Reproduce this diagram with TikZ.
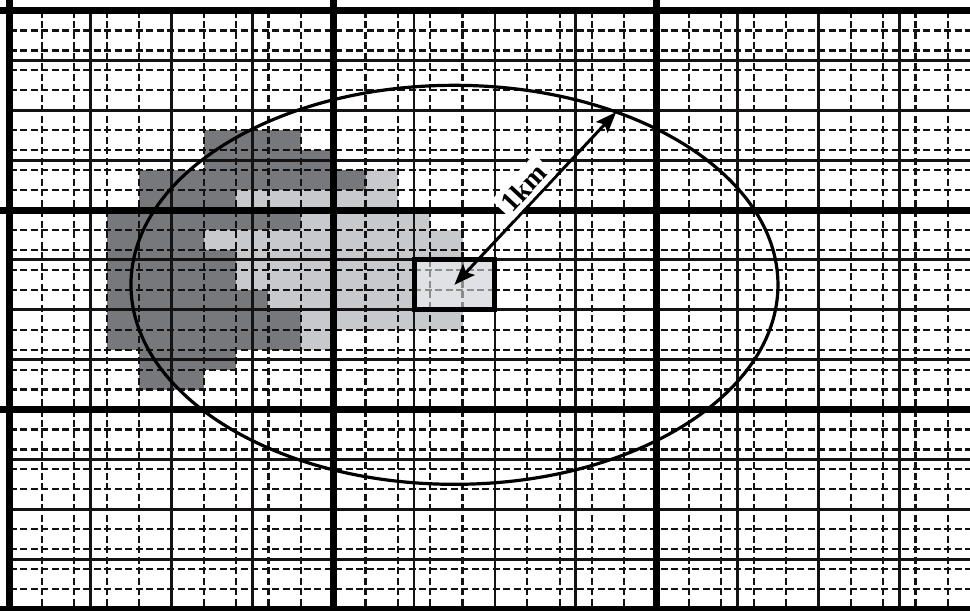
\documentclass[tikz,border=0pt]{standalone}
\usepackage{fontspec}
\setmainfont{Liberation Serif}
\usepackage{tikz}
\usetikzlibrary{arrows.meta}
\usepackage{xcolor}
\definecolor{cdark}{RGB}{119,120,124}
\definecolor{clight}{RGB}{200,201,204}
\definecolor{csite}{RGB}{224,225,228}
\definecolor{cink}{RGB}{20,18,18}
\tikzset{
  darkcell/.style={fill=cdark},
  lightcell/.style={fill=clight},
  fineline/.style={draw=cink, line width=2.2pt, dash pattern=on 7pt off 3.5pt},
  faintline/.style={fineline, draw=black!45},
  midline/.style={draw=cink, line width=2.8pt},
  majorline/.style={draw=black, line width=7pt},
  sitebox/.style={draw=black, line width=5pt},
  rangering/.style={draw=black, line width=3.2pt},
  arr/.style={{Stealth[length=21pt,width=16pt,inset=4pt]}-{Stealth[length=21pt,width=16pt,inset=4pt]},
    line width=3pt}
}

\begin{document}
\begin{tikzpicture}[x=32.35pt, y=-19.95pt]

    %% ---- frame ----------------------------------------------------
    \clip (-0.2983,-0.5263) rectangle (29.686,30.05);
    \fill[white] (-0.2983,-0.5263) rectangle (29.686,30.05);

    %% ---- shaded cells (row/first/last+1) ----------------------------
    \foreach \r/\a/\b in {6/6/9, 7/6/10, 8/4/11, 9/4/7, 10/3/9, 11/3/6,
                          12/3/7, 13/3/7, 14/3/8, 15/3/9, 16/3/9, 17/4/7, 18/4/6}
      \fill[darkcell] (\a,\r) rectangle (\b,\r+1);
    \foreach \r/\a/\b in {8/11/12, 9/7/12, 10/9/13, 11/6/14, 12/7/14,
                          13/7/14, 14/8/14, 15/9/14, 16/9/10}
      \fill[lightcell] (\a,\r) rectangle (\b,\r+1);

    %% ---- 100 m grid -----------------------------------------------
    \foreach \i in {1,...,29} \draw[fineline] (\i,0) -- (\i,30.5);
    \foreach \j in {1,...,29} \draw[fineline] (0,\j) -- (30,\j);

    %% ---- 250 m grid -----------------------------------------------
    \foreach \i in {2.5,5,...,27.5} \draw[midline] (\i,0) -- (\i,30.5);
    \foreach \j in {2.5,5,...,27.5} \draw[midline] (0,\j) -- (30,\j);

    %% ---- 1 km grid ------------------------------------------------
    \foreach \i in {0,10,20} \draw[majorline] (\i,-0.6) -- (\i,30.5);
    \foreach \j in {0,10,20,30} \draw[majorline] (-0.6,\j) -- (30,\j);

    %% ---- site cell ------------------------------------------------
    \fill[csite] (12.5,12.5) rectangle (15,15);
    \foreach \k in {13,14} {
      \draw[faintline] (\k,12.5) -- (\k,15);
      \draw[faintline] (12.5,\k) -- (15,\k);
    }
    \draw[sitebox] (12.5,12.5) rectangle (15,15);
    \coordinate (site) at (13.75,13.75);

    %% ---- 1 km range -----------------------------------------------
    \draw[rangering] (site) ellipse [x radius=10, y radius=10];
    \coordinate (rim) at (18.75,5.09);

    \draw[arr] (site) -- (rim)
      node[pos=0.5, sloped, above, fill=white, inner sep=5pt,
           font=\fontsize{28}{28}\selectfont\bfseries] (lbl) {1km};

  \end{tikzpicture}
\end{document}
